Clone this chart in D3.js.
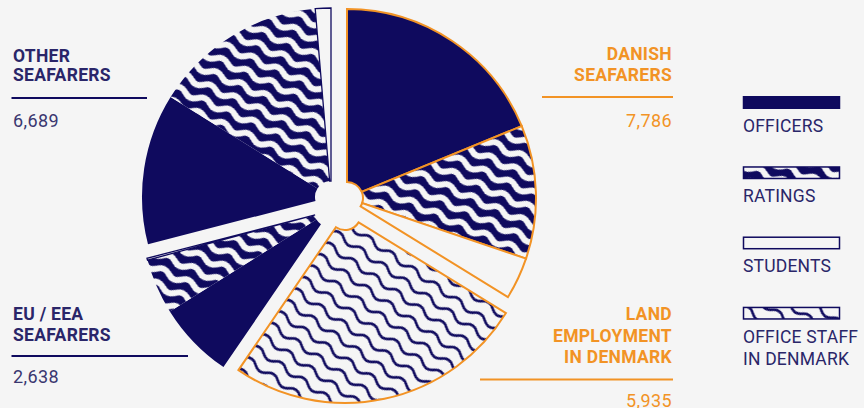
<!DOCTYPE html>
<html>
<head>
<meta charset="utf-8">
<script src="https://cdn.jsdelivr.net/npm/d3@7"></script>
<style>
  html, body { margin: 0; padding: 0; background: #f5f5f5; }
  svg { display: block; }
  text { font-family: Roboto, "Noto Sans", sans-serif; }
</style>
</head>
<body>
<svg id="chart" width="864" height="408"></svg>
<script>
// ---------------- DATA ----------------
const groups = ["DANISH SEAFARERS", "LAND EMPLOYMENT IN DENMARK", "EU / EEA SEAFARERS", "OTHER SEAFARERS"];
const groupLabelLines = [["DANISH", "SEAFARERS"], ["LAND", "EMPLOYMENT", "IN DENMARK"], ["EU / EEA", "SEAFARERS"], ["OTHER", "SEAFARERS"]];
const groupTotals = [7786, 5935, 2638, 6689];
const categories = ["OFFICERS", "RATINGS", "STUDENTS", "OFFICE STAFF IN DENMARK"];
const legendLines = [["OFFICERS"], ["RATINGS"], ["STUDENTS"], ["OFFICE STAFF", "IN DENMARK"]];
const officers    = [4330, 0, 1511, 2971];
const ratings     = [2630, 0, 1090, 3411];
const students    = [826, 0, 37, 307];
const officeStaff = [0, 5935, 0, 0];

// ---------------- STYLE / LAYOUT ----------------
const W = 864, H = 408;
const NAVY = "#0f0a5e", ORANGE = "#f29325", BG = "#f5f5f5";
const TEXT_NAVY = "#2a2669", NUM_NAVY = "#3a3770";
const cx = 338.5, cy = 205, R = 189, R0 = 16;
const groupStyle = [
  { accent: ORANGE, text: ORANGE, num: ORANGE, off: [8.5, -7], anchor: "end", x: 672, base: [59.5, 81], rule: [542, 673, 97], numY: 126.5 },
  { accent: ORANGE, text: ORANGE, num: ORANGE, off: [6.5, 9], anchor: "end", x: 672, base: [320, 341.5, 363], rule: [480, 673, 379.5], numY: 406.5 },
  { accent: NAVY, text: TEXT_NAVY, num: NUM_NAVY, off: [-8.5, 6], anchor: "start", x: 13, base: [320, 341], rule: [11.5, 188, 356], numY: 383 },
  { accent: NAVY, text: TEXT_NAVY, num: NUM_NAVY, off: [-7.5, -8], anchor: "start", x: 13, base: [61.5, 81], rule: [11.5, 147, 98], numY: 126.5 }
];
const fills = ["officers", "ratings", "students", "office"];

const svg = d3.select("#chart");
svg.append("rect").attr("width", W).attr("height", H).attr("fill", BG);

// ---------------- PATTERNS ----------------
const defs = svg.append("defs");
function wavePath(lambda, c, A) {
  let p = `M${-lambda},${c}`;
  for (let x = -lambda; x < lambda * 2; x += lambda) {
    p += ` Q${x + lambda / 4},${c - 2 * A} ${x + lambda / 2},${c} Q${x + 3 * lambda / 4},${c + 2 * A} ${x + lambda},${c}`;
  }
  return p;
}
// ratings: white waves on navy
const pr = defs.append("pattern").attr("id", "ratings").attr("patternUnits", "userSpaceOnUse")
  .attr("width", 27).attr("height", 14.5).attr("patternTransform", "rotate(24)");
pr.append("rect").attr("width", 27).attr("height", 14.5).attr("fill", NAVY);
pr.append("path").attr("d", wavePath(27, 7.25, 2.8)).attr("fill", "none").attr("stroke", BG).attr("stroke-width", 6);
// office staff: thin navy waves on background
const po = defs.append("pattern").attr("id", "office").attr("patternUnits", "userSpaceOnUse")
  .attr("width", 27).attr("height", 14).attr("patternTransform", "rotate(35)");
po.append("rect").attr("width", 27).attr("height", 14).attr("fill", BG);
po.append("path").attr("d", wavePath(27, 7, 2.8)).attr("fill", "none").attr("stroke", NAVY).attr("stroke-width", 2.6);

function fillFor(k) {
  if (k === "officers") return NAVY;
  if (k === "students") return BG;
  return `url(#${k})`;
}

// ---------------- PIE ----------------
const groupPie = d3.pie().sort(null).value(d => d)(groupTotals);
const arc = d3.arc().innerRadius(R0).outerRadius(R);
const series = [officers, ratings, students, officeStaff];

groupPie.forEach((g, gi) => {
  const st = groupStyle[gi];
  const vals = series.map(s => s[gi]);
  const slices = d3.pie().sort(null).value(d => d)
    .startAngle(g.startAngle).endAngle(g.endAngle)(vals);
  const gg = svg.append("g").attr("transform", `translate(${cx + st.off[0]},${cy + st.off[1]})`);
  slices.forEach((s, si) => {
    if (s.data <= 0) return;
    const k = fills[si];
    let stroke = "none", sw = 0;
    if (st.accent === ORANGE) { stroke = ORANGE; sw = 2; }
    else if (k === "students") { stroke = NAVY; sw = 1.3; }
    gg.append("path").attr("d", arc(s)).attr("fill", fillFor(k))
      .attr("stroke", stroke).attr("stroke-width", sw).attr("stroke-linejoin", "miter");
  });
});

// ---------------- GROUP LABELS ----------------
groups.forEach((name, gi) => {
  const st = groupStyle[gi];
  const lines = groupLabelLines[gi];
  lines.forEach((ln, li) => {
    svg.append("text").attr("x", st.x).attr("y", st.base[li])
      .attr("text-anchor", st.anchor).attr("fill", st.text)
      .attr("font-size", 17.5).attr("font-weight", 700).attr("letter-spacing", 0.3)
      .text(ln);
  });
  svg.append("line").attr("x1", st.rule[0]).attr("x2", st.rule[1])
    .attr("y1", st.rule[2]).attr("y2", st.rule[2])
    .attr("stroke", st.accent).attr("stroke-width", 1.8);
  svg.append("text").attr("x", st.x).attr("y", st.numY)
    .attr("text-anchor", st.anchor).attr("fill", st.num)
    .attr("font-size", 18).attr("font-weight", 400).attr("letter-spacing", 0.4)
    .text(d3.format(",")(groupTotals[gi]));
});

// ---------------- LEGEND ----------------
const legY = d3.scalePoint().domain(categories).range([96, 306.7]);
categories.forEach((c, i) => {
  const y = legY(c);
  const k = fills[i];
  svg.append("rect").attr("x", 743.5).attr("y", y + 0.75).attr("width", 96).attr("height", 11.5)
    .attr("fill", fillFor(k)).attr("stroke", NAVY).attr("stroke-width", 1.5);
  legendLines[i].forEach((ln, li) => {
    svg.append("text").attr("x", 743).attr("y", y + 36 + li * 22)
      .attr("fill", TEXT_NAVY).attr("font-size", 17.5).attr("font-weight", 400)
      .attr("letter-spacing", 0.2).text(ln);
  });
});
</script>
</body>
</html>
